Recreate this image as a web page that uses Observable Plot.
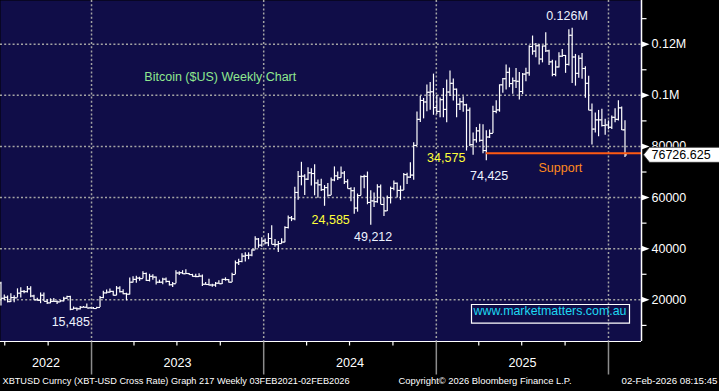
<!DOCTYPE html>
<html><head><meta charset="utf-8">
<script src="https://cdn.jsdelivr.net/npm/d3@7"></script>
<script src="https://cdn.jsdelivr.net/npm/@observablehq/plot@0.6"></script>
<style>
html,body{margin:0;padding:0;background:#000;}
#chart{width:719px;height:391px;overflow:hidden;}
</style></head><body><div id="chart"></div>
<script>
// ---- DATA (weekly bars, Mon–Sun weeks, values in thousands of US$) ----
const firstWeek = "2022-06-13";
const lastWeek = "2026-01-26";
const opens = [
26.6,20.6,21.0,19.3,20.9,20.8,22.6,23.3,23.2,24.3,21.5,20.0,19.8,21.8,19.4,18.8,19.4,19.4,19.2,19.6,20.6,21.3,16.3,16.7,16.5,17.1,17.1,16.8,16.8,
16.6,17.0,20.9,22.7,23.0,23.3,21.8,24.6,23.2,22.4,22.2,26.9,28.0,28.5,28.3,30.3,27.6,29.2,28.9,26.9,26.9,28.1,27.2,25.9,26.3,30.5,30.6,30.2,30.3,29.9,29.2,29.1,29.3,26.1,26.0,25.8,25.8,26.5,26.3,28.0,27.9,26.9,29.9,34.5,35.0,37.1,37.4,37.5,39.5,43.8,41.4,43.0,
42.3,44.0,41.7,41.6,42.0,42.6,48.3,52.1,51.7,62.0,68.3,68.4,67.2,69.7,69.4,65.7,65.0,63.1,63.9,60.9,66.9,68.5,67.8,69.6,66.2,63.5,62.7,55.9,60.8,68.2,68.3,58.1,58.7,58.4,64.2,57.3,54.8,60.0,63.6,65.6,62.8,62.9,69.0,68.0,68.8,80.4,90.6,98.0,97.4,101.2,101.4,95.2,93.7,
98.3,94.5,101.3,104.7,102.4,96.5,97.5,96.3,94.2,80.7,82.6,86.1,82.4,78.4,83.7,85.1,93.7,94.3,104.1,106.5,109.0,104.6,105.7,105.5,101.5,108.3,108.8,119.1,117.3,119.4,114.2,119.3,117.4,113.1,108.2,111.1,115.3,115.6,112.1,123.5,115.0,108.6,114.5,110.5,104.7,94.2,86.8,90.4,90.4,88.2,88.4,87.5,
91.4,90.6,95.1,86.5];
const highs = [
26.9,21.9,21.5,22.4,21.6,24.3,24.7,23.7,25.2,25.1,21.8,20.6,22.7,22.7,20.0,20.4,20.5,19.5,19.7,21.0,21.4,21.4,17.2,16.8,17.4,17.4,18.4,17.0,17.0,
17.1,21.3,23.4,23.8,24.2,23.4,25.2,25.1,23.9,22.6,28.5,29.0,29.2,28.8,31.0,30.5,30.0,29.8,28.9,27.7,28.4,28.5,27.3,26.8,31.4,31.0,31.4,31.8,30.3,30.0,30.0,30.2,29.7,26.8,28.1,26.1,26.8,27.5,28.1,28.6,28.0,30.4,35.2,35.9,38.0,38.4,38.4,39.6,44.7,44.0,44.3,43.8,
45.9,49.0,43.6,42.8,43.9,48.6,52.8,52.6,64.0,70.2,73.8,68.9,71.7,71.3,72.8,66.9,67.2,64.7,65.5,67.7,72.0,70.0,72.0,70.2,67.0,63.8,63.8,61.4,68.4,68.7,70.0,62.7,61.8,65.0,64.9,59.8,60.6,64.1,66.5,65.7,64.5,69.4,69.5,73.6,81.5,93.5,99.6,98.8,104.0,105.0,108.3,99.9,99.0,
102.7,106.0,109.5,106.4,102.5,98.8,99.4,96.5,95.0,85.3,87.4,88.7,88.5,86.1,86.4,95.7,97.9,104.1,106.6,111.9,110.7,106.8,110.5,108.9,108.5,110.6,119.4,123.2,120.3,119.9,119.3,124.5,117.6,113.7,113.4,116.7,117.9,115.6,125.7,126.2,116.0,115.5,116.4,111.2,107.5,96.6,93.1,94.1,94.6,90.6,90.0,91.9,
94.8,97.9,95.4,90.1];
const lows = [
17.6,19.6,18.8,19.0,18.9,20.8,20.7,22.4,22.7,20.8,19.8,19.5,18.5,19.3,18.2,18.5,19.1,18.2,19.0,19.2,20.1,15.7,16.2,15.5,16.0,16.9,16.6,16.6,16.3,
16.5,17.0,20.4,22.3,22.6,21.5,21.6,22.7,22.0,19.6,21.9,26.6,26.5,27.3,28.2,27.2,27.0,27.7,25.8,26.4,25.9,26.6,25.4,24.8,26.3,29.5,29.9,30.0,29.6,28.9,28.6,28.8,25.2,25.8,25.4,24.9,24.9,26.1,26.0,27.3,26.6,26.8,29.9,33.4,34.5,34.8,35.7,36.9,39.5,40.2,40.6,41.5,
40.8,41.5,40.6,38.5,41.8,42.3,47.7,50.6,50.9,59.0,64.6,60.8,66.7,64.5,60.7,59.7,62.4,56.6,60.2,60.8,66.2,66.7,67.6,65.1,63.4,58.4,53.5,54.3,60.7,63.5,57.2,49.2,56.1,57.8,57.2,52.6,54.6,57.5,62.7,59.8,58.9,62.8,65.1,67.5,66.8,80.3,89.4,90.8,93.6,94.2,92.2,92.5,91.2,
91.2,89.3,99.5,97.8,91.2,94.1,93.4,78.2,80.0,76.6,81.3,81.6,77.1,74.4,83.1,85.1,92.8,93.4,100.8,102.1,103.0,100.4,102.7,98.2,100.3,105.3,107.5,115.7,114.7,111.9,112.7,116.8,111.7,107.3,107.3,110.7,114.8,108.6,111.5,104.6,103.6,106.7,106.3,98.9,94.0,80.6,85.3,83.8,87.6,84.4,86.5,86.6,
89.3,90.0,86.2,75.7];
const closes = [
20.6,21.0,19.3,20.9,20.8,22.6,23.3,23.2,24.3,21.5,20.0,19.8,21.8,19.4,18.8,19.4,19.4,19.2,19.6,20.6,21.3,16.3,16.7,16.5,17.1,17.1,16.8,16.8,16.6,
17.0,20.9,22.7,23.0,23.3,21.8,24.6,23.2,22.4,22.2,26.9,28.0,28.5,28.3,30.3,27.6,29.2,28.9,26.9,26.9,28.1,27.2,25.9,26.3,30.5,30.6,30.2,30.3,29.9,29.2,29.1,29.3,26.1,26.0,25.8,25.8,26.5,26.3,28.0,27.9,26.9,29.9,34.5,35.0,37.1,37.4,37.5,39.5,43.8,41.4,43.0,42.3,
44.0,41.7,41.6,42.0,42.6,48.3,52.1,51.7,62.0,68.3,68.4,67.2,69.7,69.4,65.7,65.0,63.1,63.9,60.9,66.9,68.5,67.8,69.6,66.2,63.5,62.7,55.9,60.8,68.2,68.3,58.1,58.7,58.4,64.2,57.3,54.8,60.0,63.6,65.6,62.8,62.9,69.0,68.0,68.8,80.4,90.6,98.0,97.4,101.2,101.4,95.2,93.7,98.3,
94.5,101.3,104.7,102.4,96.5,97.5,96.3,94.2,80.7,82.6,86.1,82.4,78.4,83.7,85.1,93.7,94.3,104.1,106.5,109.0,104.6,105.7,105.5,101.5,108.3,108.8,119.1,117.3,119.4,114.2,119.3,117.4,113.1,108.2,111.1,115.3,115.6,112.1,123.5,115.0,108.6,114.5,110.5,104.7,94.2,86.8,90.4,90.4,88.2,88.4,87.5,91.4,
90.6,95.1,86.5,76.7];
const yMajor = [20, 40, 60, 80, 100, 120];
const yMinor = [10, 30, 50, 70, 90, 110, 130];
const supportLevel = 77.3;
const lastPrice = 76726.625;
const yearLabels = [2022, 2023, 2024, 2025];
const noteText  = ["Bitcoin ($US) Weekly Chart", "0.126M", "34,575", "74,425", "Support", "24,585", "49,212", "15,485"];
const noteKind  = ["title", "level", "move", "level", "support", "move", "level", "level"];
const noteDate  = ["2023-10-01", "2025-10-05", "2025-01-22", "2025-04-23", "2025-09-21", "2024-05-22", "2024-08-20", "2022-11-18"];
const noteValue = [107.3, 131.2, 75.5, 68.4, 71.5, 51.2, 44.6, 11.3];
const footLeft = "XBTUSD Curncy (XBT-USD Cross Rate) Graph 217 Weekly 03FEB2021-02FEB2026";
const footMid = "Copyright\u00A9 2026 Bloomberg Finance L.P.";
const footRight = "02-Feb-2026 08:15:45";
const watermark = "www.marketmatters.com.au";

// ---- BUILD ----
const weeks = d3.utcMonday.range(new Date(firstWeek), d3.utcDay.offset(new Date(lastWeek), 1));
const rows = weeks.map((date, i) => ({date, open: opens[i], high: highs[i], low: lows[i], close: closes[i]}));
const barX = d => d3.utcDay.offset(d.date, 10); // Bloomberg plots each weekly bar late in the following week
const xStart = new Date("2022-06-22"), xEnd = new Date("2026-03-12");
const yearStarts = [2023, 2024, 2025, 2026].map(y => new Date(Date.UTC(y, 0, 1)));
const quarterTicks = d3.utcMonth.every(3).range(new Date("2022-07-01"), xEnd).filter(d => d.getUTCMonth() !== 0);
const yearMid = yearLabels.map(y => {
  const a = Math.max(+new Date(Date.UTC(y, 0, 1)), +xStart), b = Math.min(+new Date(Date.UTC(y + 1, 0, 1)), +xEnd);
  return {year: y, date: new Date((a + b) / 2)};
});
const notes = noteText.map((t, i) => ({text: t, kind: noteKind[i], date: new Date(noteDate[i]), value: noteValue[i]}));
const lowRow = rows.filter(d => d.date.getUTCFullYear() === 2025).reduce((a, b) => (b.low < a.low ? b : a));
const yFmt = v => v >= 100 ? `${v / 1000}M` : `${v * 1000}`;

const navy = "#100d48", gridC = "#a4a4a4";
const noteColor = {title: "#8fe88f", level: "#eef3ff", move: "#ffff3a", support: "#ff8a1c"};

const sym = f => ({draw: f});
const leftTick = sym(c => { c.moveTo(-2, 0); c.lineTo(0, 0); });
const rightTick = sym(c => { c.moveTo(0, 0); c.lineTo(2, 0); });
const tri = sym(c => { c.moveTo(0, -3); c.lineTo(8, 0); c.lineTo(0, 3); c.closePath(); });
const hMinor = sym(c => { c.moveTo(0, 0); c.lineTo(5, 0); });
const vTick = sym(c => { c.moveTo(0, 0); c.lineTo(0, 4); });
const divider = sym(c => { c.moveTo(0, 0); c.lineTo(0, 33); });
const tag = sym(c => { c.moveTo(0, 0); c.lineTo(6, -7.5); c.lineTo(77, -7.5); c.lineTo(77, 7.5); c.lineTo(6, 7.5); c.closePath(); });
const box = sym(c => { c.moveTo(-170, -37); c.lineTo(-12, -37); c.lineTo(-12, -18.3); c.lineTo(-170, -18.3); c.closePath(); });

const chart = Plot.plot({
  width: 719, height: 391,
  marginTop: 0, marginLeft: 0, marginRight: 78, marginBottom: 50,
  style: {background: "#000", color: "#fff", fontFamily: "'Liberation Sans', Arial, sans-serif"},
  x: {type: "utc", domain: [xStart, xEnd], axis: null},
  y: {domain: [3.7, 137.1], axis: null},
  marks: [
    Plot.frame({fill: navy, stroke: "none"}),
    Plot.ruleY(yMajor, {y: d => d, stroke: gridC, strokeWidth: 1.5, strokeDasharray: "2,2.2"}),
    Plot.ruleX(yearStarts.slice(0, 4), {x: d => d, stroke: gridC, strokeWidth: 1.5, strokeDasharray: "2,2.2"}),
    // OHLC bars
    Plot.ruleX(rows, {x: barX, y1: "low", y2: "high", stroke: "#fff", strokeWidth: 1.2}),
    Plot.dot(rows, {x: barX, y: "open", symbol: leftTick, stroke: "#fff", fill: "none", strokeWidth: 1.1}),
    Plot.dot(rows, {x: barX, y: "close", symbol: rightTick, stroke: "#fff", fill: "none", strokeWidth: 1.1}),
    // support line
    Plot.ruleY([supportLevel], {y: d => d, x1: barX(lowRow), x2: xEnd, stroke: "#ff5a12", strokeWidth: 2}),
    // annotations
    Plot.text(notes, {x: "date", y: "value", text: "text", fill: d => noteColor[d.kind], fontSize: 12.5, textAnchor: "middle"}),
    // watermark
    Plot.dot([0], {frameAnchor: "bottom-right", symbol: box, stroke: "#fff", fill: "none", strokeWidth: 1.2}),
    Plot.text([watermark], {frameAnchor: "bottom-right", dx: -91.5, dy: -26.7, text: d => d, fill: "#1ed8f2", fontSize: 13, textAnchor: "middle"}),
    // axes lines
    Plot.ruleX([xEnd], {x: d => d, stroke: "#fff", strokeWidth: 1.5}),
    Plot.ruleY([3.7], {y: d => d, stroke: "#fff", strokeWidth: 1.2}),
    // right axis
    Plot.dot(yMinor, {y: d => d, frameAnchor: "right", symbol: hMinor, stroke: "#fff", fill: "none", strokeWidth: 1.2}),
    Plot.dot(yMajor, {y: d => d, frameAnchor: "right", symbol: tri, fill: "#fff", stroke: "none"}),
    Plot.text(yMajor, {y: d => d, frameAnchor: "right", dx: 10, text: yFmt, fill: "#fff", fontSize: 12.5, textAnchor: "start"}),
    // last price tag
    Plot.dot([lastPrice / 1000], {y: d => d, frameAnchor: "right", dx: 2, symbol: tag, fill: "#fff", stroke: "#333", strokeWidth: 0.8}),
    Plot.text([lastPrice], {y: d => d / 1000, frameAnchor: "right", dx: 10, text: d => String(d), fill: "#000", fontSize: 12.5, textAnchor: "start"}),
    // bottom axis
    Plot.dot(quarterTicks, {x: d => d, frameAnchor: "bottom", symbol: vTick, stroke: "#fff", fill: "none", strokeWidth: 1.2}),
    Plot.dot(yearStarts, {x: d => d, frameAnchor: "bottom", symbol: divider, stroke: "#8c8c8c", fill: "none", strokeWidth: 1.5}),
    Plot.text(yearMid, {x: "date", frameAnchor: "bottom", dy: 25.5, text: d => String(d.year), fill: "#fff", fontSize: 13.5, textAnchor: "middle"}),
    // footer
    Plot.text([footLeft], {frameAnchor: "bottom-left", dx: 2, dy: 42, text: d => d, fill: "#fff", fontSize: 9.5, textAnchor: "start"}),
    Plot.text([footMid], {frameAnchor: "bottom-left", dx: 398, dy: 42, text: d => d, fill: "#fff", fontSize: 9.5, textAnchor: "start"}),
    Plot.text([footRight], {frameAnchor: "bottom-right", dx: 76, dy: 42, text: d => d, fill: "#fff", fontSize: 9.5, textAnchor: "end"})
  ]
});
document.getElementById("chart").appendChild(chart);

// fit footer and label widths to the reference
const fitWidths = {[footLeft]: 347, [footMid]: 173, [footRight]: 96, [watermark]: 153, "2022": 28, "2023": 28, "2024": 28, "2025": 28};
d3.select(chart).selectAll("text").each(function () {
  const w = fitWidths[this.textContent];
  if (w) { this.setAttribute("textLength", w); this.setAttribute("lengthAdjust", "spacingAndGlyphs"); }
});
</script>
</body></html>
